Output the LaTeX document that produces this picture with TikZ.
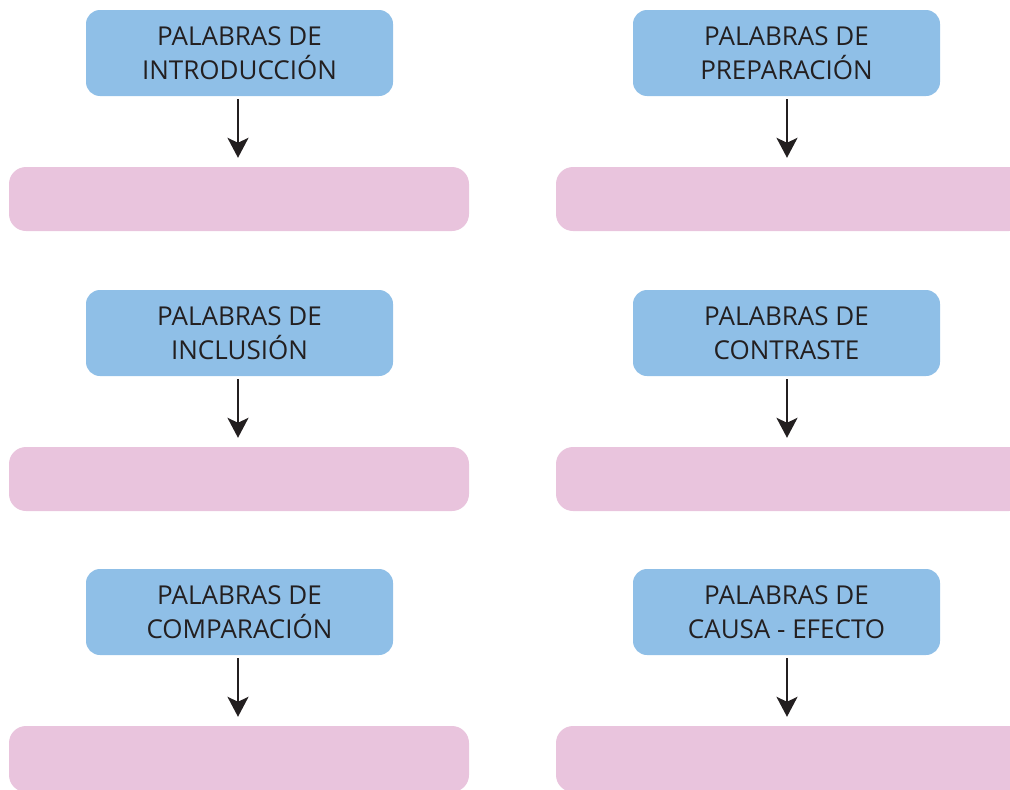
\documentclass[tikz,border=0pt]{standalone}
\usepackage{fontspec}
\setmainfont{Open Sans}
\usetikzlibrary{arrows.meta}
\definecolor{bluebox}{HTML}{8FBFE7}
\definecolor{pinkbox}{HTML}{E9C4DD}
\definecolor{ink}{HTML}{231F20}
\tikzset{
  titlebox/.style={fill=bluebox, draw=none, rounded corners=14pt, minimum width=307pt, minimum height=86pt, inner sep=0pt, align=center, text=ink, font=\fontsize{26pt}{34pt}\selectfont},
  answerbox/.style={fill=pinkbox, draw=none, rounded corners=17pt, minimum height=64pt, inner sep=0pt},
  link/.style={draw=ink, line width=2.4pt, -{Stealth[length=20pt, width=21pt, inset=5pt]}, shorten <=3pt}
}
\begin{document}
\begin{tikzpicture}[x=1pt,y=-1pt]
\useasboundingbox (0,0) rectangle (1010,790);
\clip (0,0) rectangle (1010,790);
% left column
\node[titlebox] (t1) at (239.5,53) {PALABRAS DE\\INTRODUCCIÓN};
\node[titlebox] (t3) at (239.5,333) {PALABRAS DE\\INCLUSIÓN};
\node[titlebox] (t5) at (239.5,612) {PALABRAS DE\\COMPARACIÓN};
% right column
\node[titlebox] (t2) at (786.5,53) {PALABRAS DE\\PREPARACIÓN};
\node[titlebox] (t4) at (786.5,333) {PALABRAS DE\\CONTRASTE};
\node[titlebox] (t6) at (786.5,612) {PALABRAS DE\\CAUSA - EFECTO};
% answer boxes
\node[answerbox, minimum width=460pt] (a1) at (239,199) {};
\node[answerbox, minimum width=460pt] (a3) at (239,479) {};
\node[answerbox, minimum width=460pt, minimum height=66pt] (a5) at (239,759) {};
\node[answerbox, minimum width=470pt] (a2) at (791,199) {};
\node[answerbox, minimum width=470pt] (a4) at (791,479) {};
\node[answerbox, minimum width=470pt, minimum height=66pt] (a6) at (791,759) {};
% arrows
\draw[link] (t1.south -| 238,0) -- ([yshift=9pt]a1.north -| 238,0);
\draw[link] (t3.south -| 238,0) -- ([yshift=9pt]a3.north -| 238,0);
\draw[link] (t5.south -| 238,0) -- ([yshift=9pt]a5.north -| 238,0);
\draw[link] (t2.south -| 787,0) -- ([yshift=9pt]a2.north -| 787,0);
\draw[link] (t4.south -| 787,0) -- ([yshift=9pt]a4.north -| 787,0);
\draw[link] (t6.south -| 787,0) -- ([yshift=9pt]a6.north -| 787,0);
\end{tikzpicture}
\end{document}
